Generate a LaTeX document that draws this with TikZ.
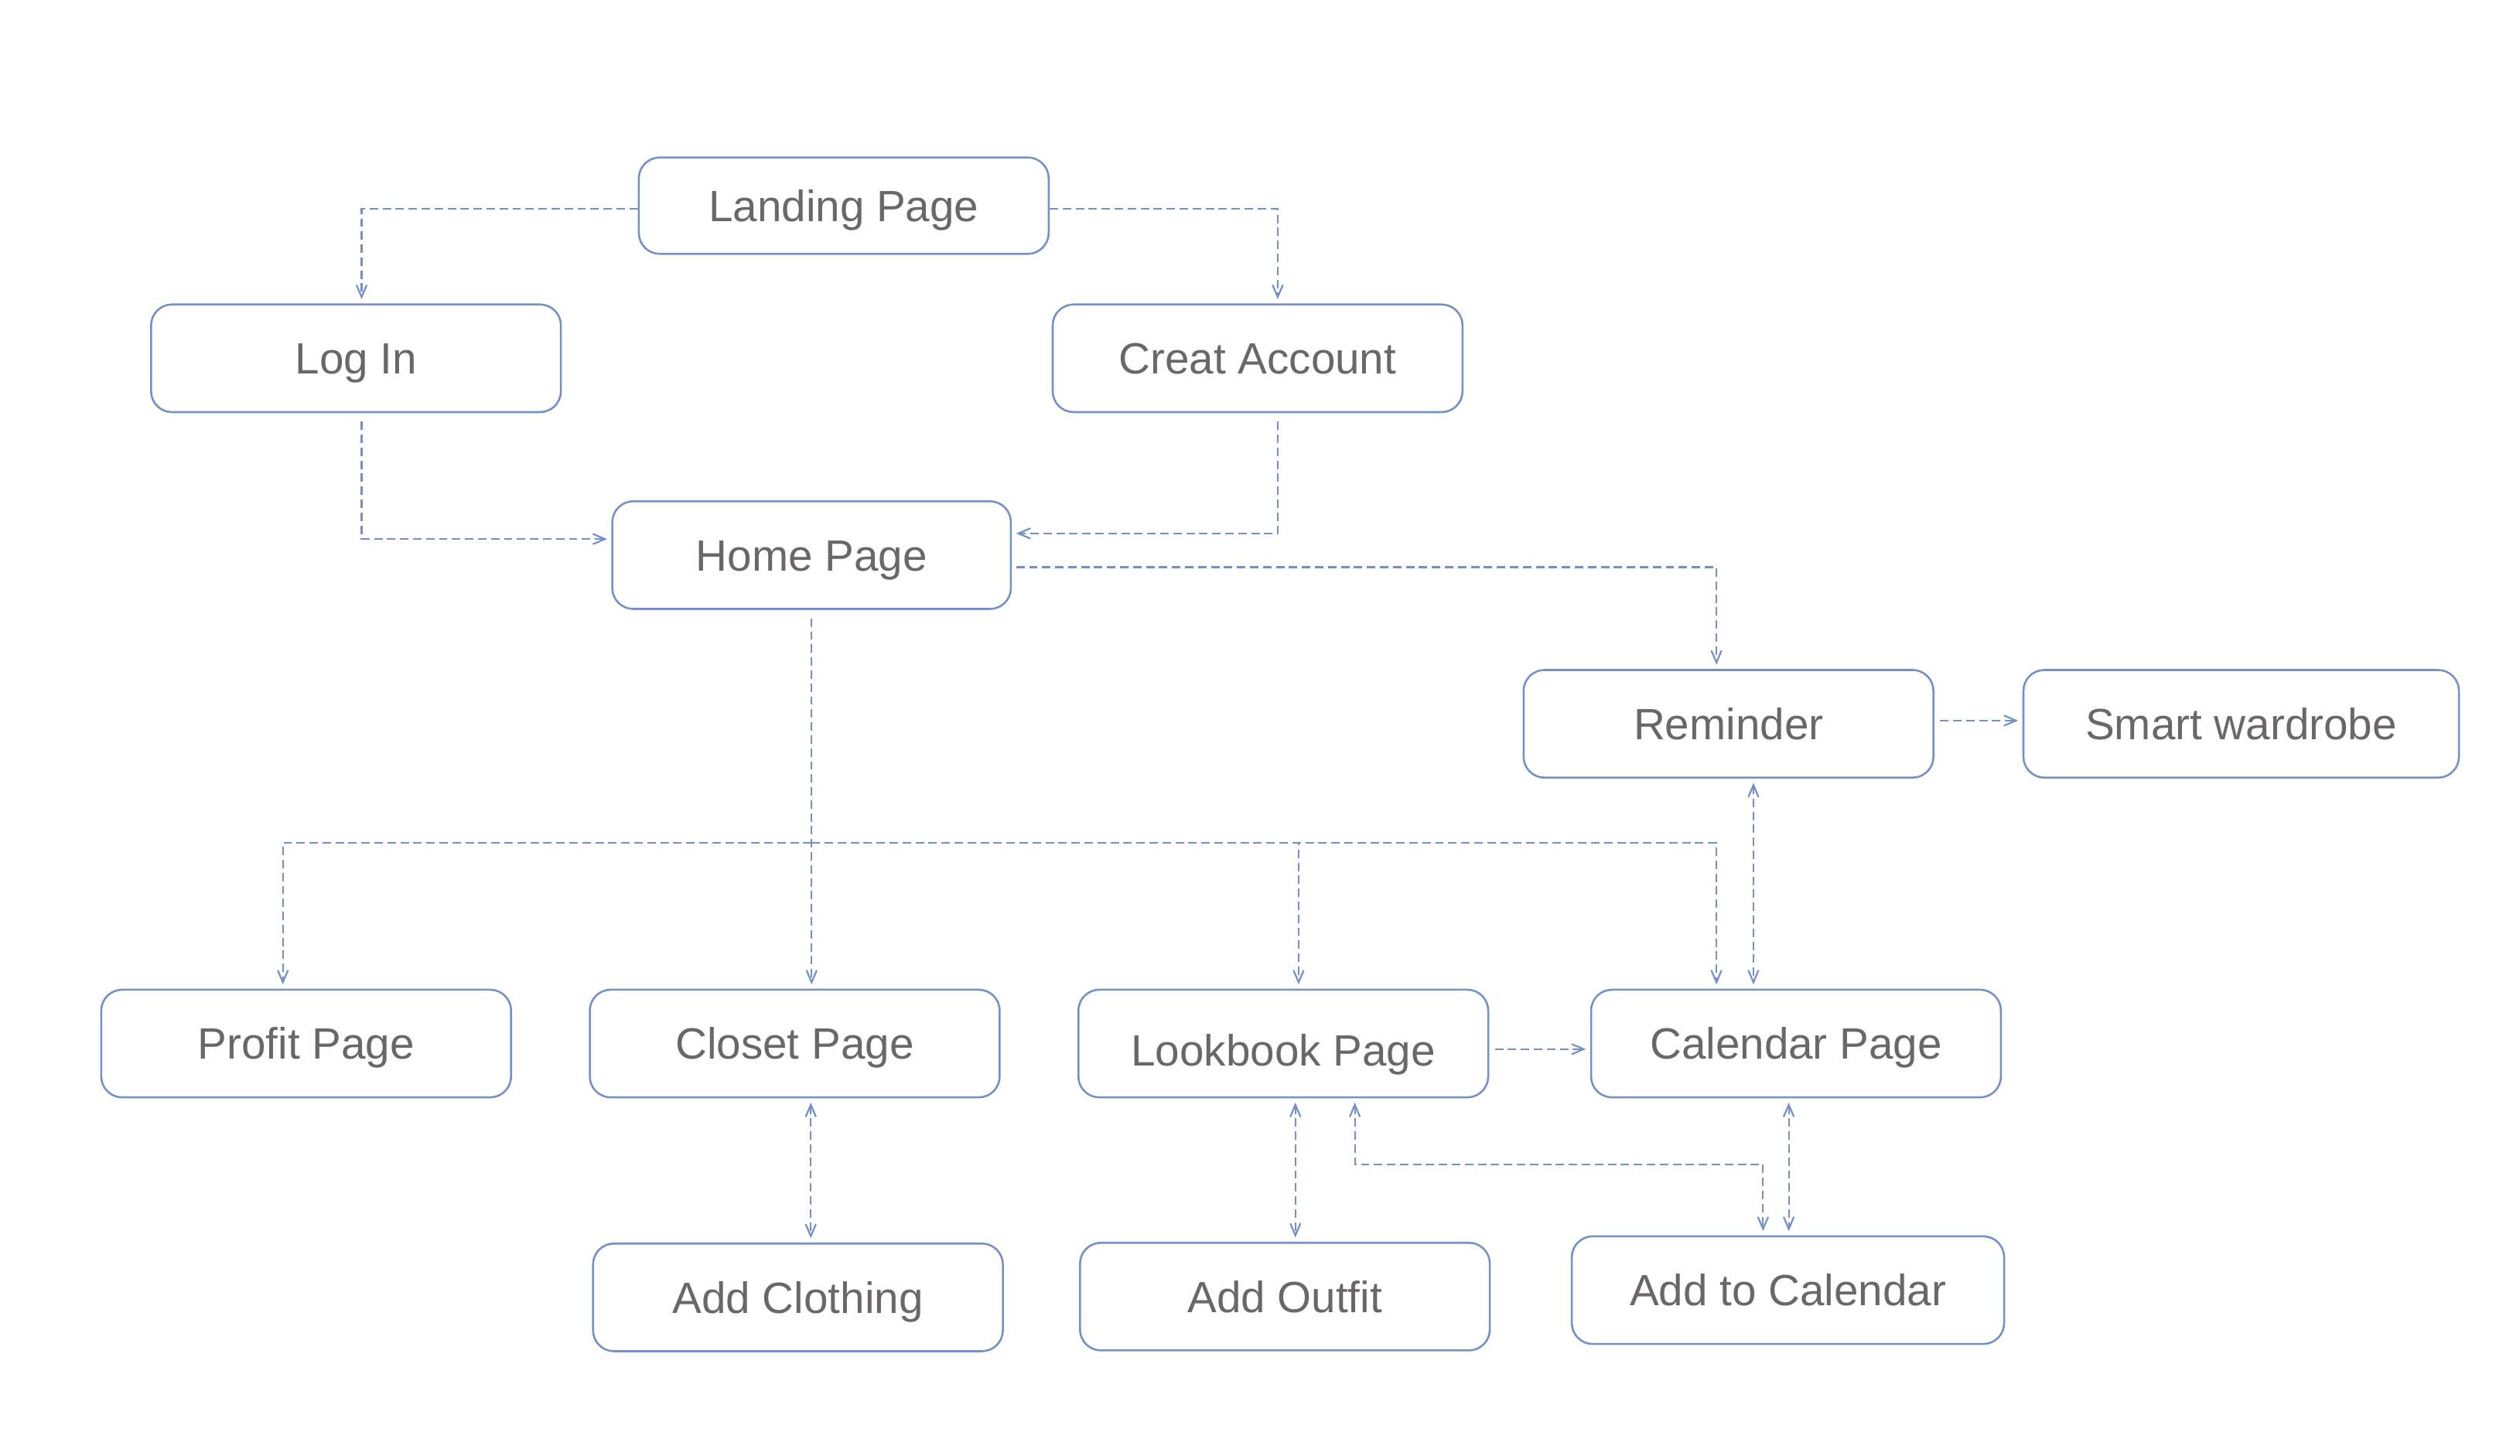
\documentclass[tikz,border=0pt]{standalone}
\usepackage{fontspec}
\setmainfont{Liberation Sans}
\usepackage{tikz}
\usetikzlibrary{positioning}
\usetikzlibrary{arrows}
\definecolor{lineblue}{HTML}{7390C9}
\definecolor{textgray}{HTML}{6B6767}
\tikzstyle{page} = [rectangle, rounded corners=0.26cm, minimum width=5.1cm, minimum height=1.34cm, text centered, text height=11.1pt, text depth=0pt, draw=lineblue, line width=0.7pt, text=textgray, font=\fontsize{15.5}{18}\selectfont]
\tikzstyle{arrow} = [draw=lineblue, line width=0.6pt, dash pattern=on 3pt off 1.6pt, ->, >=angle 45, shorten >=1.5pt]
\tikzstyle{twoway} = [draw=lineblue, line width=0.6pt, dash pattern=on 3pt off 1.6pt, <->, >=angle 45, shorten >=1.5pt, shorten <=1.5pt]

\begin{document}
\begin{tikzpicture}[node distance=2cm]
\useasboundingbox (0,0) rectangle (31.36,-18.12);

\node (landing) [page, minimum height=1.2cm] at (10.5,-2.56) {Landing Page};
\node (login) [page, below of=landing, xshift=-6.07cm, yshift=0.1cm] {Log In};
\node (creat) [page, below of=landing, xshift=5.15cm, yshift=0.1cm] {Creat Account};
\node (home) [page, minimum width=4.96cm, below of=landing, xshift=-0.4cm, yshift=-2.35cm] {Home Page};
\node (reminder) [page, below of=home, xshift=11.41cm, yshift=-0.1cm] {Reminder};
\node (smart) [page, minimum width=5.42cm, right of=reminder, xshift=4.38cm] {Smart wardrobe};
\node (closet) [page, below of=home, xshift=-0.21cm, yshift=-4.08cm] {Closet Page};
\node (profit) [page, left of=closet, xshift=-4.08cm] {Profit Page};
\node (lookbook) [page, text height=15.7pt, right of=closet, xshift=4.08cm] {Lookbook Page};
\node (calendar) [page, right of=lookbook, xshift=4.38cm] {Calendar Page};
\node (addcloth) [page, below of=closet, xshift=0.04cm, yshift=-1.16cm] {Add Clothing};
\node (addoutfit) [page, below of=lookbook, xshift=0.02cm, yshift=-1.15cm] {Add Outfit};
\node (addcal) [page, minimum width=5.38cm, below of=calendar, xshift=-0.1cm, yshift=-1.07cm] {Add to Calendar};

\coordinate (bus) at ([yshift=-2.9cm]home.south);

\draw [arrow] ([yshift=-0.04cm]landing.west) -| ([xshift=0.07cm]login.north);
\draw [arrow] ([yshift=-0.04cm]landing.east) -| ([xshift=0.25cm]creat.north);
\draw [arrow, shorten <=3pt] ([xshift=0.07cm]login.south) |- ([yshift=0.2cm]home.west);
\draw [arrow, shorten <=3pt] ([xshift=0.25cm]creat.south) |- ([yshift=0.27cm]home.east);
\draw [arrow, shorten <=1.5pt] ([yshift=-0.15cm]home.east) -| ([xshift=-0.15cm]reminder.north);
\draw [arrow, shorten <=3pt] (home.south) -- (home.south |- closet.north);
\draw [arrow] (bus) -| ([xshift=-0.29cm]profit.north);
\draw [arrow] (bus) -| ([xshift=0.19cm]lookbook.north);
\draw [arrow] (bus) -| ([xshift=-0.99cm]calendar.north);
\draw [arrow, shorten <=2pt] ([yshift=0.04cm]reminder.east) -- ([yshift=0.04cm]smart.west);
\draw [arrow, shorten <=2pt] ([yshift=-0.07cm]lookbook.east) -- ([yshift=-0.07cm]lookbook.east -| calendar.west);
\draw [twoway] ([xshift=0.31cm]reminder.south) -- ([xshift=0.31cm]reminder.south |- calendar.north);
\draw [twoway] ([xshift=0.2cm]closet.south) -- ([xshift=0.2cm]closet.south |- addcloth.north);
\draw [twoway] ([xshift=0.15cm]lookbook.south) -- ([xshift=0.15cm]lookbook.south |- addoutfit.north);
\draw [twoway] ([xshift=0.89cm]lookbook.south) -- ++(0,-0.82) -| ([xshift=-0.31cm]addcal.north);
\draw [twoway] ([xshift=-0.09cm]calendar.south) -- ([xshift=-0.09cm]calendar.south |- addcal.north);

\end{tikzpicture}
\end{document}
